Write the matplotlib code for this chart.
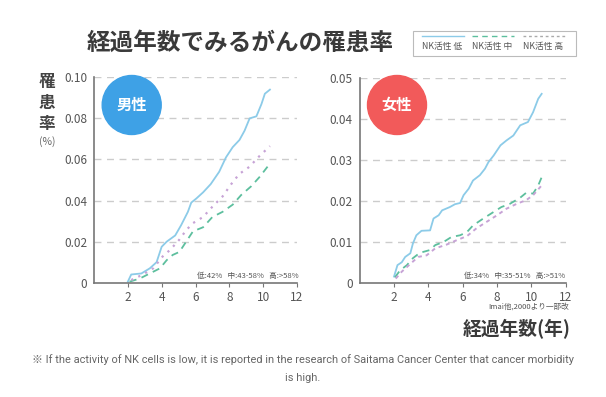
import matplotlib
matplotlib.use("Agg")
import matplotlib.pyplot as plt
from matplotlib.patches import Ellipse, Rectangle
from matplotlib.lines import Line2D

plt.rcParams['font.family'] = ['Noto Sans CJK JP', 'DejaVu Sans']

# values (years elapsed, cumulative incidence)
# male
m_low_x = [2.0, 2.2, 2.8, 3.3, 3.7, 4.0, 4.3, 4.8, 5.15, 5.55, 5.75, 6.05, 6.45, 6.9, 7.4,
           7.8, 8.2, 8.6, 8.9, 9.2, 9.6, 9.9, 10.1, 10.4]
m_low_y = [0.0005, 0.004, 0.0045, 0.007, 0.010, 0.0175, 0.020, 0.023, 0.028, 0.0345, 0.039,
           0.041, 0.044, 0.048, 0.054, 0.061, 0.066, 0.0695, 0.074, 0.080, 0.081, 0.087,
           0.092, 0.094]
m_mid_x = [2.1, 2.7, 3.3, 3.9, 4.3, 4.65, 5.05, 5.45, 5.85, 6.45, 7.0, 7.6, 8.2, 8.7,
           9.3, 9.8, 10.4]
m_mid_y = [0.0005, 0.002, 0.0045, 0.007, 0.011, 0.0135, 0.015, 0.020, 0.025, 0.027, 0.032,
           0.0345, 0.038, 0.0427, 0.047, 0.0516, 0.058]
m_high_x = [2.2, 2.9, 3.5, 4.05, 4.5, 5.05, 5.45, 5.85, 6.45, 7.0, 7.6, 8.2, 8.6, 9.2,
            9.7, 10.4]
m_high_y = [0.0013, 0.004, 0.007, 0.0127, 0.016, 0.021, 0.0256, 0.029, 0.032, 0.037, 0.042,
            0.049, 0.053, 0.0565, 0.061, 0.0665]

# female
f_low_x = [2.0, 2.2, 2.45, 2.65, 2.95, 3.1, 3.3, 3.6, 4.1, 4.3, 4.6, 4.8, 5.25, 5.55, 5.85,
           6.05, 6.35, 6.6, 7.0, 7.3, 7.5, 7.8, 8.2, 8.55, 8.95, 9.35, 9.8, 10.1, 10.4, 10.6]
f_low_y = [0.0015, 0.0043, 0.005, 0.0063, 0.0072, 0.0096, 0.0116, 0.0127, 0.0128, 0.0157,
           0.0165, 0.0177, 0.0185, 0.0192, 0.0195, 0.0214, 0.023, 0.025, 0.0263, 0.0279,
           0.0295, 0.0311, 0.0336, 0.0348, 0.036, 0.0385, 0.0393, 0.0417, 0.045, 0.0462]
f_mid_x = [2.05, 2.35, 2.75, 3.1, 3.5, 4.1, 4.4, 4.9, 5.35, 5.85, 6.25, 6.6, 7.2, 7.8,
           8.25, 8.75, 9.35, 9.7, 10.1, 10.4, 10.65]
f_mid_y = [0.0013, 0.003, 0.0043, 0.006, 0.0073, 0.008, 0.0092, 0.010, 0.0112, 0.0116,
           0.0124, 0.014, 0.0157, 0.0173, 0.0185, 0.0193, 0.0208, 0.022, 0.0218, 0.0238,
           0.0263]
f_high_x = [2.1, 2.45, 2.95, 3.4, 3.9, 4.4, 5.05, 5.65, 6.25, 6.8, 7.4, 8.0, 8.55, 9.15,
            9.7, 10.1, 10.6]
f_high_y = [0.001, 0.0027, 0.0046, 0.0063, 0.0067, 0.0084, 0.0093, 0.0104, 0.0114, 0.0133,
            0.0149, 0.0165, 0.0181, 0.0193, 0.0202, 0.0214, 0.0238]

x_ticks = [2, 4, 6, 8, 10, 12]
m_yticks = [0, 0.02, 0.04, 0.06, 0.08, 0.10]
m_ylabels = ['0', '0.02', '0.04', '0.06', '0.08', '0.10']
f_yticks = [0, 0.01, 0.02, 0.03, 0.04, 0.05]
f_ylabels = ['0', '0.01', '0.02', '0.03', '0.04', '0.05']

legend_labels = ['NK活性 低', 'NK活性 中', 'NK活性 高']

c_low = '#8ccbe8'
c_mid = '#5dbf9e'
c_high = '#c7a3d6'
c_grey = '#555555'

fig = plt.figure(figsize=(6.06, 3.97), dpi=100)

W, H = 606.0, 397.0


def setup_axes(ax, ymax, yticks, ylabels):
    ax.set_xlim(0, 12)
    ax.set_ylim(0, ymax)
    for s in ['top', 'right']:
        ax.spines[s].set_visible(False)
    for s in ['left', 'bottom']:
        ax.spines[s].set_color('#777777')
        ax.spines[s].set_linewidth(1.2)
    ax.set_xticks(x_ticks)
    ax.set_xticklabels([str(t) for t in x_ticks])
    ax.set_yticks(yticks)
    ax.set_yticklabels(ylabels)
    ax.tick_params(axis='x', length=3, color='#777777', labelcolor=c_grey, labelsize=8.5, pad=3)
    ax.tick_params(axis='y', length=0, labelcolor=c_grey, labelsize=8.5, pad=5)
    for t in yticks[1:]:
        ax.axhline(t, color='#cccccc', lw=1, dashes=(5, 4), zorder=0)


ax1 = fig.add_axes([94 / W, (H - 282.7) / H, 203 / W, 205.4 / H])
setup_axes(ax1, 0.10, m_yticks, m_ylabels)
ax1.plot(m_low_x, m_low_y, color=c_low, lw=1.3)
ax1.plot(m_mid_x, m_mid_y, color=c_mid, lw=1.3, dashes=(4, 3))
ax1.plot(m_high_x, m_high_y, color=c_high, lw=1.6, dashes=(1, 2.5))
ax1.text(12.1, 0.0035, '低:42%   中:43-58%   高:>58%', ha='right', va='center',
         fontsize=5.5, color=c_grey)

ax2 = fig.add_axes([359.7 / W, (H - 282.7) / H, 206 / W, 204.4 / H])
setup_axes(ax2, 0.05, f_yticks, f_ylabels)
ax2.plot(f_low_x, f_low_y, color=c_low, lw=1.3)
ax2.plot(f_mid_x, f_mid_y, color=c_mid, lw=1.3, dashes=(4, 3))
ax2.plot(f_high_x, f_high_y, color=c_high, lw=1.4, dashes=(2, 2))
ax2.text(11.95, 0.00175, '低:34%   中:35-51%   高:>51%', ha='right', va='center',
         fontsize=5.5, color=c_grey)

# gender badges
for cx, color, label in [(131.7, '#3ea1e6', '男性'), (397, '#f25a5a', '女性')]:
    fig.add_artist(Ellipse((cx / W, (H - 105) / H), 59 / W, 59 / H,
                           transform=fig.transFigure, color=color, zorder=5))
    fig.text(cx / W, (H - 105) / H, label, ha='center', va='center', color='white',
             fontsize=11, fontweight='bold', zorder=6)

# title
fig.text(240 / W, (H - 43) / H, '経過年数でみるがんの罹患率', ha='center', va='center',
         fontsize=17, fontweight='bold', color='#3a3a3a')

# legend box
fig.add_artist(Rectangle((413 / W, (H - 56) / H), 163 / W, 25 / H, transform=fig.transFigure,
                         facecolor='white', edgecolor='#bbbbbb', lw=0.8))
leg_x = [422, 472, 523]
leg_styles = [dict(color=c_low), dict(color=c_mid, dashes=(4, 3)),
              dict(color='#aaaaaa', dashes=(2, 2))]
for lx, lab, st in zip(leg_x, legend_labels, leg_styles):
    fig.add_artist(Line2D([lx / W, (lx + 42) / W], [(H - 36) / H, (H - 36) / H],
                          transform=fig.transFigure, lw=1, **st))
    fig.text(lx / W, (H - 46) / H, lab, ha='left', va='center', fontsize=6.3, color=c_grey)

# y label
for yy, ch in [(82, '罹'), (103, '患'), (124, '率')]:
    fig.text(47 / W, (H - yy) / H, ch, ha='center', va='center', fontsize=12,
             fontweight='bold', color='#444444')
fig.text(47 / W, (H - 142) / H, '(%)', ha='center', va='center', fontsize=7.5, color='#666666')

fig.text(569 / W, (H - 307) / H, 'Imai他,2000より一部改', ha='right', va='center',
         fontsize=5.5, color=c_grey)
fig.text(571 / W, (H - 329) / H, '経過年数(年)', ha='right', va='center', fontsize=13.5,
         fontweight='bold', color='#3a3a3a')

fig.text(W / 2 / W, (H - 360) / H,
         '※ If the activity of NK cells is low, it is reported in the research of Saitama '
         'Cancer Center that cancer morbidity',
         ha='center', va='center', fontsize=7.9, color='#666666',
         family=['Roboto', 'Noto Sans CJK JP'])
fig.text(W / 2 / W, (H - 378) / H, 'is high.', ha='center', va='center', fontsize=7.9,
         color='#666666', family=['Roboto', 'Noto Sans CJK JP'])

fig.savefig('out.png', dpi=100)
